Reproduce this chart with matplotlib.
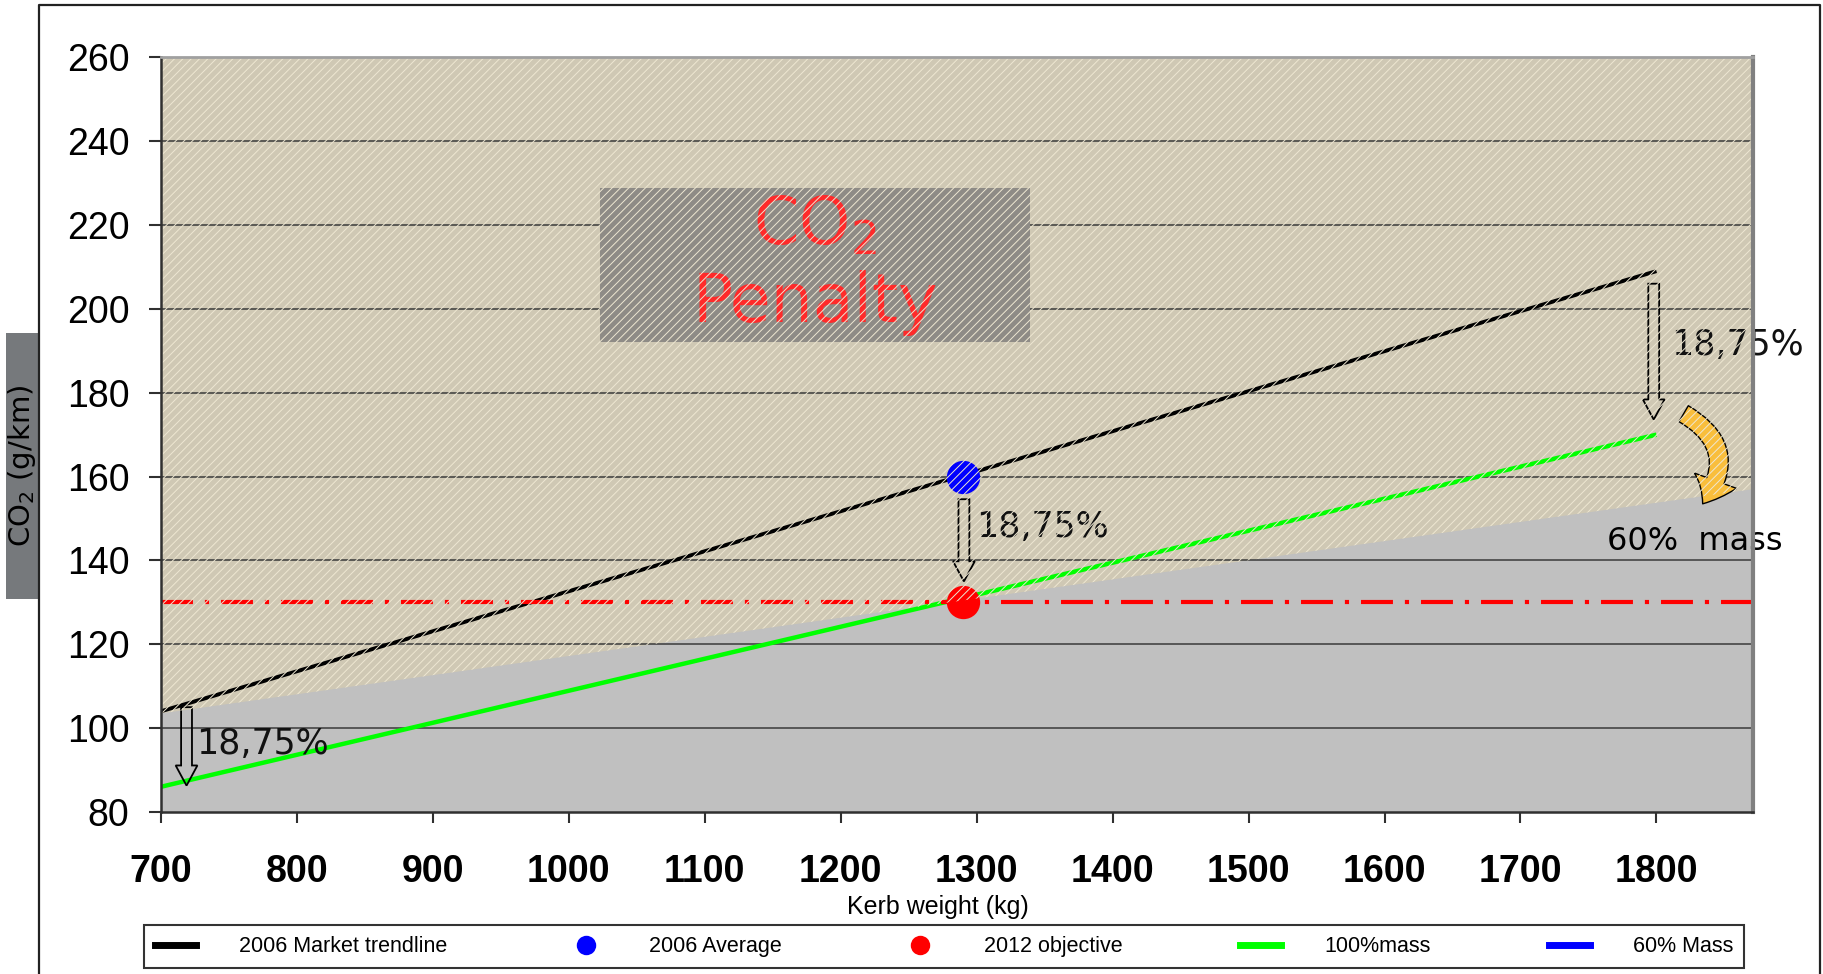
import matplotlib
matplotlib.use("Agg")
import matplotlib.pyplot as plt
import matplotlib.patches as mpatches
from matplotlib.lines import Line2D
import numpy as np

# ---------------- data ----------------
kerb_weight = [700, 1800]          # x range of the trend lines
market_trend_2006 = [104, 209]      # 2006 market trendline (g/km)
mass_100 = [86, 170]                # 100% mass line
mass60_x = [700, 1871]
mass_60 = [103.5, 157]              # 60% mass line (boundary of penalty area)
avg_2006_x, avg_2006_y = [1290], [160]
obj_2012_x, obj_2012_y = [1290], [130]
objective_level = 130
x_ticks = [700, 800, 900, 1000, 1100, 1200, 1300, 1400, 1500, 1600, 1700, 1800]
y_ticks = [80, 100, 120, 140, 160, 180, 200, 220, 240, 260]
legend_labels = ["2006 Market trendline", "2006 Average", "2012 objective",
                 "100%mass", "60% Mass"]
reduction_label = "18,75%"

# ---------------- figure ----------------
plt.rcParams['hatch.linewidth'] = 0.7
plt.rcParams['lines.scale_dashes'] = False
W, H = 1824, 974
fig = plt.figure(figsize=(W / 100, H / 100), dpi=100)
ax = fig.add_axes([160.7 / W, 1 - 812 / H, (1753 - 160.7) / W, (812 - 57.3) / H])
ax.set_xlim(700, 1871)
ax.set_ylim(80, 260)
ax.set_facecolor('#c0c0c0')

# upper (penalty) region base colour
ax.fill_between(mass60_x, mass_60, 260, facecolor='#cfc8b4', edgecolor='none', lw=0, zorder=0.5)

# grid lines
for yv in y_ticks[1:-1]:
    ax.axhline(yv, color='#3a3a3a', lw=1.1, zorder=1)

# penalty box
ax.add_patch(mpatches.Rectangle((1023, 192.2), 316, 36.7, facecolor='#8e8b86',
                                edgecolor='none', zorder=2))
ax.text(1181, 219.8, "CO$_2$", color='#ff2a2a', fontsize=47, ha='center', va='center',
        family='DejaVu Sans', zorder=3)
ax.text(1181, 201.5, "Penalty", color='#ff2a2a', fontsize=48, ha='center', va='center',
        family='DejaVu Sans', zorder=3)

# lines
ax.plot(kerb_weight, market_trend_2006, color='black', lw=2.8, zorder=4, solid_capstyle='butt')
ax.plot(kerb_weight, mass_100, color='#00ff00', lw=3.2, zorder=4, solid_capstyle='butt')
obj_line, = ax.plot([700, 1871], [objective_level, objective_level], color='#ff0000', lw=3.0,
                    zorder=4, solid_capstyle='butt')
obj_line.set_dashes((23, 8.6, 3, 8.6))

# points
ax.plot(avg_2006_x, avg_2006_y, 'o', color='#0000ff', ms=24, mec='none', zorder=5)
ax.plot(obj_2012_x, obj_2012_y, 'o', color='#ff0000', ms=24, mec='none', zorder=5)

# hollow block arrows
arrows = [(719, 105, 86.3, 726), (1290.7, 154.6, 135, 1300), (1798, 206, 173.6, 1811)]
text_y = [96.3, 148.0, 191.5]
for (ax_x, y0, y1, tx), ty in zip(arrows, text_y):
    ax.add_patch(mpatches.FancyArrow(ax_x, y0, 0, y1 - y0, width=8, head_width=16,
                                     head_length=4.8, length_includes_head=True,
                                     facecolor='none', edgecolor='black', lw=1.3,
                                     zorder=6, clip_on=False))
    ax.text(tx, ty, reduction_label, fontsize=25, family='DejaVu Sans', color='#111111',
            ha='left', va='center', zorder=6, clip_on=False)

# curved yellow arrow
curved = mpatches.FancyArrowPatch((1820, 175), (1834, 153.5),
                                  connectionstyle='arc3,rad=-0.55',
                                  arrowstyle='simple,head_length=1.0,head_width=1.7,tail_width=0.7',
                                  mutation_scale=19, facecolor='#f9be3c', edgecolor='black',
                                  lw=1.0, zorder=6, clip_on=False, shrinkA=0, shrinkB=0)
ax.add_patch(curved)
ax.text(1828, 144.6, "60%  mass", fontsize=23, family='DejaVu Sans', color='black',
        ha='center', va='center', zorder=9, clip_on=False)

# hatch overlay on the penalty region
ax.fill_between(mass60_x, mass_60, 260, facecolor='none', edgecolor='#eee7d2',
                hatch='////', lw=0, zorder=8)

# spines & ticks
for s in ['left', 'bottom']:
    ax.spines[s].set_color('#303030')
    ax.spines[s].set_linewidth(1.8)
ax.spines['right'].set_color('#808080')
ax.spines['right'].set_linewidth(3)
ax.spines['top'].set_color('#a0a0a0')
ax.spines['top'].set_linewidth(2)
for s in ax.spines.values():
    s.set_zorder(10)

ax.set_yticks(y_ticks)
ax.set_yticklabels([str(v) for v in y_ticks], fontsize=27, family='Liberation Sans')
ax.set_xticks(x_ticks)
ax.set_xticklabels([str(v) for v in x_ticks], fontsize=27, family='Liberation Sans',
                   fontweight='bold')
ax.tick_params(axis='y', length=8.6, width=1.5, color='#303030', pad=14)
ax.tick_params(axis='x', length=8, width=1.5, color='#303030', pad=22)

# x label
fig.text(938 / W, 1 - 907 / H, "Kerb weight (kg)", fontsize=18, family='Liberation Sans',
         ha='center', va='center')

# y label with grey box
fig.patches.append(mpatches.Rectangle((6 / W, 1 - 599 / H), 32 / W, 266 / H,
                                      transform=fig.transFigure, facecolor='#76797c',
                                      edgecolor='none', zorder=0))
fig.text(22 / W, 1 - 466 / H, "CO$_2$ (g/km)", fontsize=21, family='DejaVu Sans',
         rotation=90, ha='center', va='center', color='black')

# outer frame
fig.add_artist(Line2D([39 / W, 39 / W, 1820 / W, 1820 / W], [0, 1 - 5 / H, 1 - 5 / H, 0],
                      transform=fig.transFigure, color='#222222', lw=1.6))

# legend
handles = [
    Line2D([], [], color='black', lw=5),
    Line2D([], [], color='#0000ff', marker='o', ls='none', ms=14, mec='none'),
    Line2D([], [], color='#ff0000', marker='o', ls='none', ms=14, mec='none'),
    Line2D([], [], color='#00ff00', lw=5),
    Line2D([], [], color='#0000ff', lw=5),
]
leg = fig.legend(handles, legend_labels, loc='lower left', ncol=5, mode='expand',
                 bbox_to_anchor=(144 / W, 1 - 968 / H, 1600 / W, 47 / H),
                 prop={'family': 'Liberation Sans', 'size': 15.5}, frameon=True,
                 fancybox=False, edgecolor='black', borderaxespad=0, handlelength=1.9,
                 handletextpad=2.0, borderpad=0.5)
leg.get_frame().set_linewidth(1.5)

fig.savefig("out.png", dpi=100)
